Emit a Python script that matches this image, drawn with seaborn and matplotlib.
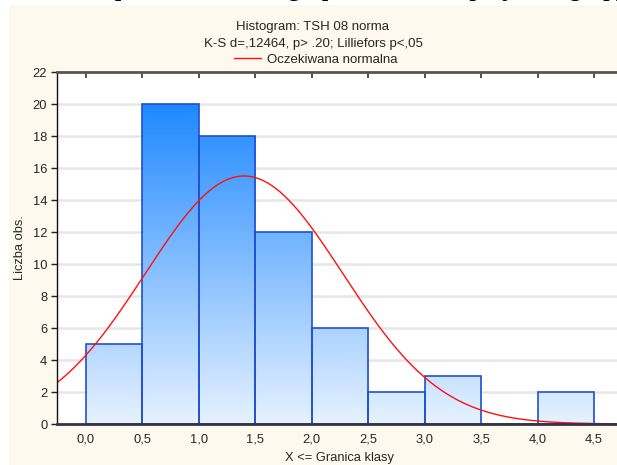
import numpy as np
import pandas as pd
import matplotlib
matplotlib.use("Agg")
import matplotlib.pyplot as plt
from matplotlib.patches import Rectangle
from matplotlib.colors import LinearSegmentedColormap
import seaborn as sns

# ---- data ----
bin_edges = [0.0, 0.5, 1.0, 1.5, 2.0, 2.5, 3.0, 3.5, 4.0, 4.5]
counts = [5, 20, 18, 12, 6, 2, 3, 0, 2]
tick_labels = ["0,0", "0,5", "1,0", "1,5", "2,0", "2,5", "3,0", "3,5", "4,0", "4,5"]
y_ticks = [0, 2, 4, 6, 8, 10, 12, 14, 16, 18, 20, 22]
fit_mean = 1.40      # expected normal: mean
fit_sd = 0.875       # expected normal: standard deviation
n_obs = sum(counts)
bin_width = 0.5

title1 = "Histogram: TSH 08 norma"
title2 = "K-S d=,12464, p> .20; Lilliefors p<,05"
legend_label = "Oczekiwana normalna"
xlabel = "X <= Granica klasy"
ylabel = "Liczba obs."
page_text = "Rozkład normalności poziomów TSH w grupie 08 norma a pacjenci z grupy badanej"

sns.set_style("white")
plt.rcParams["font.family"] = ["Liberation Sans", "DejaVu Sans"]

W, H = 617, 465
fig = plt.figure(figsize=(W / 100, H / 100), dpi=100)
fig.patch.set_facecolor("white")

# cream panel
fig.add_artist(Rectangle((9 / W, 0), 1 - 9 / W, (H - 5) / H,
                         transform=fig.transFigure, facecolor="#fdf9ee",
                         edgecolor="none", zorder=0))
# cut-off page text above the panel (only its lower edge shows, as in the reference)
fig.text(0.5, 1 - 1 / H, page_text, ha="center", va="bottom",
         family=["Liberation Serif", "DejaVu Serif"], fontweight="bold",
         fontsize=16, color="black", zorder=1)

ax_left, ax_right, ax_top, ax_bottom = 57, 623, 72, 424
ax = fig.add_axes([ax_left / W, (H - ax_bottom) / H,
                   (ax_right - ax_left) / W, (ax_bottom - ax_top) / H])
ax.set_facecolor("white")

xlim = (-0.257, 4.757)
ax.set_xlim(*xlim)
ax.set_ylim(0, 22)

# grid
for yv in y_ticks[1:-1]:
    ax.axhline(yv, color="#e6e6e6", lw=1.8, zorder=0.5)

centers = [(a + b) / 2 for a, b in zip(bin_edges[:-1], bin_edges[1:])]
df = pd.DataFrame({"x": centers, "n": counts})
sns.histplot(data=df, x="x", weights="n", bins=bin_edges, ax=ax,
             stat="count", element="bars", fill=True,
             facecolor="none", edgecolor="#2050d0", linewidth=1.2, zorder=2)

# vertical gradient fill clipped to each bar
cmap = LinearSegmentedColormap.from_list("g", ["#e6f2ff", "#1b86ff"])
grad = np.linspace(0, 1, 256).reshape(-1, 1)
for p in list(ax.patches):
    if p.get_height() <= 0:
        continue
    im = ax.imshow(grad, cmap=cmap, origin="lower", aspect="auto",
                   extent=[xlim[0], xlim[1], 0, 20.5], zorder=1.5,
                   interpolation="bilinear")
    im.set_clip_path(p)
ax.set_xlim(*xlim)
ax.set_ylim(0, 22)

# expected normal curve
xs = np.linspace(xlim[0], xlim[1], 400)
ys = n_obs * bin_width / (fit_sd * np.sqrt(2 * np.pi)) * np.exp(-0.5 * ((xs - fit_mean) / fit_sd) ** 2)
sns.lineplot(x=xs, y=ys, ax=ax, color="#ff1010", lw=1.0, label=legend_label, zorder=3)

# axes styling
ax.set_xticks(bin_edges)
ax.set_xticklabels(tick_labels)
ax.set_yticks(y_ticks)
ax.tick_params(axis="x", top=True, bottom=False, direction="in", length=4,
               width=1.2, color="#333333", labelsize=9.3, pad=7, labelbottom=True)
ax.tick_params(axis="y", left=True, direction="out", length=4, width=1,
               color="#222222", labelsize=9.3, pad=3)
ax.spines["right"].set_visible(False)
ax.spines["left"].set_color("#111111")
ax.spines["left"].set_linewidth(1.0)
ax.spines["top"].set_color("#555555")
ax.spines["top"].set_linewidth(2.0)
ax.spines["bottom"].set_color("#333344")
ax.spines["bottom"].set_linewidth(2.0)
for s in ax.spines.values():
    s.set_zorder(5)

ax.set_xlabel(xlabel, fontsize=9.3)
ax.set_ylabel(ylabel, fontsize=9.3)
ax.xaxis.set_label_coords((340 - ax_left) / (ax_right - ax_left),
                          -(458 - ax_bottom) / (ax_bottom - ax_top))
ax.yaxis.set_label_coords(-(ax_left - 20) / (ax_right - ax_left), 0.5)
ax.xaxis.label.set_va("center")
ax.yaxis.label.set_va("center")

# titles
fig.text(313 / W, 1 - 27 / H, title1, ha="center", va="center", fontsize=9.5)
fig.text(313 / W, 1 - 44 / H, title2, ha="center", va="center", fontsize=9.5)
leg = ax.legend(loc="center", bbox_to_anchor=(316 / W, 1 - 60 / H),
                bbox_transform=fig.transFigure, frameon=False, fontsize=9.5,
                handlelength=2.0, handletextpad=0.5, borderpad=0)

fig.savefig("out.png", dpi=100, facecolor=fig.get_facecolor())
